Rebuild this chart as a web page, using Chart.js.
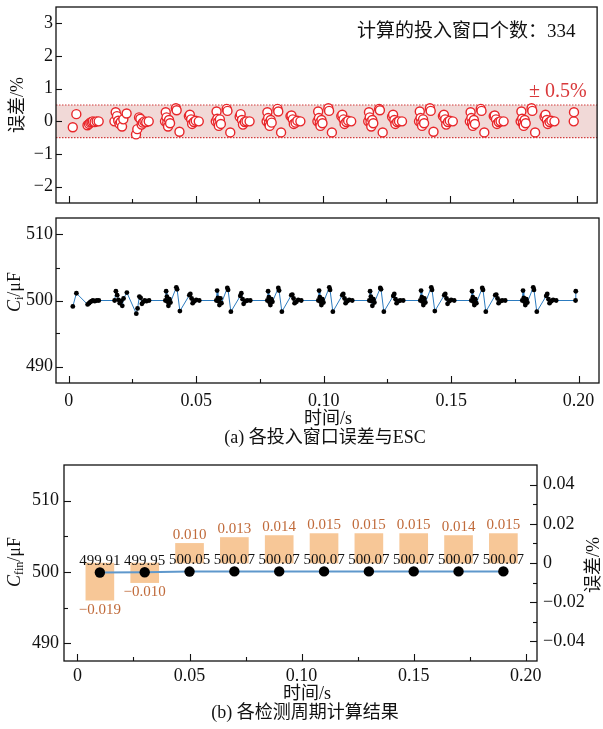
<!DOCTYPE html>
<html>
<head>
<meta charset="utf-8">
<script src="https://cdn.jsdelivr.net/npm/chart.js@4"></script>
<style>
  body { margin: 0; background: #fff; }
  #page { position: relative; width: 603px; height: 729px; overflow: hidden; font-family: "Liberation Serif", "Noto Sans CJK SC", serif; color: #111; }
  canvas { position: absolute; left: 0; }
  .txt { position: absolute; white-space: nowrap; font-size: 18px; line-height: 1; }
  .rot { transform: translate(-50%, -50%) rotate(-90deg); }
  .mid { transform: translate(-50%, -50%); }
  .lft { transform: translate(0, -50%); }
  sub { font-size: 12px; vertical-align: -3px; line-height: 0; }
  i { font-style: italic; }
</style>
</head>
<body>
<div id="page">
  <canvas id="errChart" width="603" height="210" style="top:0"></canvas>
  <canvas id="capChart" width="603" height="200" style="top:210px"></canvas>
  <canvas id="finChart" width="603" height="240" style="top:455px"></canvas>

  <div class="txt rot" style="left:17px; top:105px">误差/%</div>
  <div class="txt lft" style="left:357px; top:30px; font-size:19px">计算的投入窗口个数：334</div>
  <div class="txt lft" style="left:529px; top:90px; font-size:20px; color:#d9383a">± 0.5%</div>

  <div class="txt rot" style="left:14px; top:292px"><i>C</i><sub>i</sub>/μF</div>
  <div class="txt mid" style="left:328px; top:418px">时间/s</div>
  <div class="txt mid" style="left:325px; top:437px">(a) 各投入窗口误差与ESC</div>

  <div class="txt rot" style="left:14px; top:562px"><i>C</i><sub>fin</sub>/μF</div>
  <div class="txt rot" style="left:593px; top:565px">误差/%</div>
  <div class="txt mid" style="left:307px; top:693px">时间/s</div>
  <div class="txt mid" style="left:305px; top:712px">(b) 各检测周期计算结果</div>
</div>

<script>
// ---- data ----
// each input window: time (s), error (%) and estimated capacitance (uF)
const windowTime = [
  0.0016, 0.0030, 0.0074, 0.0080, 0.0085, 0.0090, 0.0095, 0.0102, 0.0110, 0.0118,
  0.0180, 0.0185, 0.0190, 0.0195, 0.0200, 0.0205, 0.0210, 0.0215, 0.0228, 0.0265, 0.0270, 0.0277, 0.0282, 0.0287, 0.0292, 0.0298, 0.0305, 0.0315,
  0.0379, 0.0382, 0.0385, 0.0388, 0.0391, 0.0395, 0.0399, 0.0422, 0.0425, 0.0436, 0.0473, 0.0477, 0.0482, 0.0486, 0.0493, 0.0500, 0.0512,
  0.0579, 0.0582, 0.0585, 0.0588, 0.0591, 0.0595, 0.0599, 0.0622, 0.0625, 0.0636, 0.0673, 0.0677, 0.0682, 0.0686, 0.0693, 0.0700, 0.0712,
  0.0779, 0.0782, 0.0785, 0.0788, 0.0791, 0.0795, 0.0799, 0.0822, 0.0825, 0.0836, 0.0873, 0.0877, 0.0882, 0.0886, 0.0893, 0.0900, 0.0912,
  0.0979, 0.0982, 0.0985, 0.0988, 0.0991, 0.0995, 0.0999, 0.1022, 0.1025, 0.1036, 0.1073, 0.1077, 0.1082, 0.1086, 0.1093, 0.1100, 0.1112,
  0.1179, 0.1182, 0.1185, 0.1188, 0.1191, 0.1195, 0.1199, 0.1222, 0.1225, 0.1236, 0.1273, 0.1277, 0.1282, 0.1286, 0.1293, 0.1300, 0.1312,
  0.1379, 0.1382, 0.1385, 0.1388, 0.1391, 0.1395, 0.1399, 0.1422, 0.1425, 0.1436, 0.1473, 0.1477, 0.1482, 0.1486, 0.1493, 0.1500, 0.1512,
  0.1579, 0.1582, 0.1585, 0.1588, 0.1591, 0.1595, 0.1599, 0.1622, 0.1625, 0.1636, 0.1673, 0.1677, 0.1682, 0.1686, 0.1693, 0.1700, 0.1712,
  0.1779, 0.1782, 0.1785, 0.1788, 0.1791, 0.1795, 0.1799, 0.1822, 0.1825, 0.1836, 0.1873, 0.1877, 0.1882, 0.1886, 0.1893, 0.1900, 0.1912,
  0.1988, 0.1989
];
const windowError = [
  -0.18, 0.22, -0.12, -0.08, -0.04, -0.02, 0.00, -0.02, 0.00, 0.00,
  0.00, 0.28, 0.16, 0.02, -0.08, -0.02, -0.16, 0.06, 0.24, -0.40, -0.24, 0.12, 0.08, -0.10, -0.04, 0.00, -0.02, 0.00,
  0.00, 0.28, 0.12, -0.04, -0.16, 0.04, -0.06, 0.40, 0.34, -0.32, 0.16, 0.20, 0.06, -0.08, -0.02, 0.02, 0.00,
  0.00, 0.30, 0.08, -0.02, -0.14, 0.06, -0.08, 0.38, 0.32, -0.34, 0.14, 0.22, 0.04, -0.10, -0.02, 0.00, 0.00,
  0.00, 0.28, 0.10, -0.06, -0.14, 0.04, -0.04, 0.38, 0.30, -0.34, 0.16, 0.18, 0.06, -0.08, -0.04, 0.02, 0.00,
  0.00, 0.30, 0.10, -0.04, -0.14, 0.04, -0.06, 0.40, 0.32, -0.34, 0.16, 0.20, 0.06, -0.08, -0.02, 0.02, 0.00,
  0.00, 0.28, 0.12, -0.02, -0.16, 0.04, -0.06, 0.38, 0.34, -0.34, 0.14, 0.20, 0.04, -0.08, -0.02, 0.00, 0.00,
  0.00, 0.30, 0.10, -0.04, -0.14, 0.06, -0.06, 0.40, 0.32, -0.32, 0.16, 0.20, 0.06, -0.10, -0.02, 0.02, 0.00,
  0.00, 0.28, 0.10, -0.04, -0.14, 0.04, -0.08, 0.38, 0.32, -0.34, 0.16, 0.18, 0.06, -0.08, -0.02, 0.00, 0.00,
  0.00, 0.30, 0.08, -0.04, -0.14, 0.04, -0.06, 0.40, 0.32, -0.34, 0.14, 0.20, 0.04, -0.08, -0.02, 0.02, 0.00,
  0.00, 0.28
];
const windowCap = [
  499.1, 501.1, 499.4, 499.6, 499.8, 499.9, 500.0, 499.9, 500.0, 500.0,
  500.0, 501.4, 500.8, 500.1, 499.6, 499.9, 499.2, 500.3, 501.2, 498.0, 498.8, 500.6, 500.4, 499.5, 499.8, 500.0, 499.9, 500.0,
  500.0, 501.4, 500.6, 499.8, 499.2, 500.2, 499.7, 502.0, 501.7, 498.4, 500.8, 501.0, 500.3, 499.6, 499.9, 500.1, 500.0,
  500.0, 501.5, 500.4, 499.9, 499.3, 500.3, 499.6, 501.9, 501.6, 498.3, 500.7, 501.1, 500.2, 499.5, 499.9, 500.0, 500.0,
  500.0, 501.4, 500.5, 499.7, 499.3, 500.2, 499.8, 501.9, 501.5, 498.3, 500.8, 500.9, 500.3, 499.6, 499.8, 500.1, 500.0,
  500.0, 501.5, 500.5, 499.8, 499.3, 500.2, 499.7, 502.0, 501.6, 498.3, 500.8, 501.0, 500.3, 499.6, 499.9, 500.1, 500.0,
  500.0, 501.4, 500.6, 499.9, 499.2, 500.2, 499.7, 501.9, 501.7, 498.3, 500.7, 501.0, 500.2, 499.6, 499.9, 500.0, 500.0,
  500.0, 501.5, 500.5, 499.8, 499.3, 500.3, 499.7, 502.0, 501.6, 498.4, 500.8, 501.0, 500.3, 499.5, 499.9, 500.1, 500.0,
  500.0, 501.4, 500.5, 499.8, 499.3, 500.2, 499.6, 501.9, 501.6, 498.3, 500.8, 500.9, 500.3, 499.6, 499.9, 500.0, 500.0,
  500.0, 501.5, 500.4, 499.8, 499.3, 500.2, 499.7, 502.0, 501.6, 498.3, 500.7, 501.0, 500.2, 499.6, 499.9, 500.1, 500.0,
  500.0, 501.4
];
const tolerance = 0.5; // +-0.5 % band

// each detection period (b)
const periodTime = [0.01, 0.03, 0.05, 0.07, 0.09, 0.11, 0.13, 0.15, 0.17, 0.19];
const finalCap = [499.91, 499.95, 500.05, 500.07, 500.07, 500.07, 500.07, 500.07, 500.07, 500.07];
const periodError = [-0.019, -0.010, 0.010, 0.013, 0.014, 0.015, 0.015, 0.015, 0.014, 0.015];

// tick labels
const timeTicks = [0, 0.05, 0.1, 0.15, 0.2];
const timeMinor = [0.025, 0.075, 0.125, 0.175];
const errTicks = [-2, -1, 0, 1, 2, 3];
const capTicks = [490, 500, 510];
const capMinor = [495, 505];
const pctTicks = [-0.04, -0.02, 0, 0.02, 0.04];
const pctMinor = [-0.03, -0.01, 0.01, 0.03];

// ---- helpers ----
const FONT = '"Liberation Serif", "Noto Sans CJK SC", serif';
const minus = (s) => s.replace('-', '\u2212');

function fixSize(size) {
  return (scale) => {
    if (scale.isHorizontal()) scale.height = size; else scale.width = size;
    scale.paddingTop = scale.paddingBottom = scale.paddingLeft = scale.paddingRight = 0;
  };
}

function setTicks(values) {
  return (scale) => { scale.ticks = values.map((v) => ({ value: v })); };
}

function axis(opts) {
  return {
    type: 'linear',
    position: opts.position,
    min: opts.min,
    max: opts.max,
    offset: false,
    grid: { display: false, drawTicks: false },
    border: { display: false },
    afterBuildTicks: setTicks(opts.ticks || []),
    afterFit: fixSize(opts.size),
    ticks: {
      display: opts.labels !== false,
      padding: opts.padding || 4,
      color: '#111',
      font: { family: FONT, size: 18 },
      callback: opts.format,
    },
  };
}

// frame around the plot area + inward tick marks
function frame(specs) {
  return {
    id: 'frame',
    afterDraw(chart) {
      const ctx = chart.ctx, a = chart.chartArea;
      ctx.save();
      ctx.strokeStyle = '#111';
      ctx.lineWidth = 1.3;
      ctx.strokeRect(a.left, a.top, a.right - a.left, a.bottom - a.top);
      ctx.lineWidth = 1.1;
      specs.forEach((s) => {
        const sc = chart.scales[s.id];
        s.values.forEach((v) => {
          const p = Math.round(sc.getPixelForValue(v)) + 0.5;
          ctx.beginPath();
          if (s.side === 'bottom') { ctx.moveTo(p, a.bottom); ctx.lineTo(p, a.bottom - s.len); }
          else if (s.side === 'left') { ctx.moveTo(a.left, p); ctx.lineTo(a.left + s.len, p); }
          else { ctx.moveTo(a.right, p); ctx.lineTo(a.right - s.len, p); }
          ctx.stroke();
        });
      });
      ctx.restore();
    },
  };
}

const fmtTime = (v) => (v === 0 ? '0' : v.toFixed(2));
const fmtInt = (v) => minus(String(v));
const fmtPct = (v) => (v === 0 ? '0' : minus(v.toFixed(2)));

const common = {
  responsive: false,
  animation: false,
  events: [],
  plugins: { legend: { display: false }, tooltip: { enabled: false } },
};

// ---- (a) top: error of each input window ----
const band = {
  id: 'band',
  beforeDatasetsDraw(chart) {
    const ctx = chart.ctx, a = chart.chartArea, y = chart.scales.y;
    const top = y.getPixelForValue(tolerance), bot = y.getPixelForValue(-tolerance);
    ctx.save();
    ctx.fillStyle = 'rgb(241, 217, 215)';
    ctx.fillRect(a.left, top, a.right - a.left, bot - top);
    ctx.strokeStyle = '#d23c3c';
    ctx.lineWidth = 1.2;
    ctx.setLineDash([1.5, 1.5]);
    [top, bot].forEach((p) => {
      ctx.beginPath();
      ctx.moveTo(a.left, p);
      ctx.lineTo(a.right, p);
      ctx.stroke();
    });
    ctx.restore();
  },
};

new Chart(document.getElementById('errChart'), {
  type: 'scatter',
  data: {
    datasets: [{
      data: windowTime.map((t, i) => ({ x: t, y: windowError[i] })),
      pointRadius: 4.5,
      borderWidth: 1.4,
      borderColor: '#e8262a',
      backgroundColor: '#ffffff',
    }],
  },
  options: {
    ...common,
    layout: { padding: { top: 7, left: 0, right: 0, bottom: 0 } },
    scales: {
      x: axis({ position: 'bottom', min: -0.005, max: 0.208, ticks: timeTicks, size: 7, labels: false }),
      y: axis({ position: 'left', min: -2.5, max: 3.5, ticks: errTicks, size: 56, padding: 3, format: fmtInt }),
    },
  },
  plugins: [band, frame([
    { id: 'x', side: 'bottom', values: timeTicks, len: 7 },
    { id: 'x', side: 'bottom', values: timeMinor, len: 4 },
    { id: 'y', side: 'left', values: errTicks, len: 6 },
  ])],
});

// ---- (a) bottom: capacitance of each input window ----
new Chart(document.getElementById('capChart'), {
  type: 'line',
  data: {
    datasets: [{
      data: windowTime.map((t, i) => ({ x: t, y: windowCap[i] })),
      borderColor: '#2c7bbf',
      borderWidth: 1,
      pointRadius: 2.4,
      pointBackgroundColor: '#000',
      pointBorderWidth: 0,
      tension: 0,
    }],
  },
  options: {
    ...common,
    layout: { padding: { top: 8, left: 0, right: 0, bottom: 0 } },
    scales: {
      x: axis({ position: 'bottom', min: -0.005, max: 0.208, ticks: timeTicks, size: 27, padding: 7, format: fmtTime }),
      y: axis({ position: 'left', min: 487.5, max: 512.5, ticks: capTicks, size: 56, padding: 3, format: fmtInt }),
    },
  },
  plugins: [frame([
    { id: 'x', side: 'bottom', values: timeTicks, len: 7 },
    { id: 'x', side: 'bottom', values: timeMinor, len: 4 },
    { id: 'y', side: 'left', values: capTicks, len: 7 },
    { id: 'y', side: 'left', values: capMinor, len: 4 },
  ])],
});

// ---- (b) result of each detection period ----
const valueLabels = {
  id: 'valueLabels',
  afterDatasetsDraw(chart) {
    const ctx = chart.ctx;
    ctx.save();
    ctx.font = '15px ' + FONT;
    ctx.textAlign = 'center';
    chart.getDatasetMeta(1).data.forEach((el, i) => {
      const v = periodError[i];
      ctx.fillStyle = '#c06a3a';
      ctx.textBaseline = v >= 0 ? 'bottom' : 'top';
      ctx.fillText(minus(v.toFixed(3)), el.x, v >= 0 ? el.y - 1 : el.y + 2);
    });
    chart.getDatasetMeta(0).data.forEach((el, i) => {
      ctx.fillStyle = '#111';
      ctx.textBaseline = 'bottom';
      ctx.fillText(finalCap[i].toFixed(2), el.x, el.y - 4);
    });
    ctx.restore();
  },
};

new Chart(document.getElementById('finChart'), {
  type: 'bar',
  data: {
    datasets: [
      {
        type: 'line',
        data: periodTime.map((t, i) => ({ x: t, y: finalCap[i] })),
        yAxisID: 'y',
        order: 0,
        borderColor: '#5f98cc',
        borderWidth: 2,
        pointRadius: 5.2,
        pointBackgroundColor: '#000',
        pointBorderWidth: 0,
      },
      {
        type: 'bar',
        data: periodTime.map((t, i) => ({ x: t, y: periodError[i] })),
        yAxisID: 'y1',
        order: 1,
        backgroundColor: 'rgb(247, 199, 151)',
        barThickness: 28,
        grouped: false,
      },
    ],
  },
  options: {
    ...common,
    layout: { padding: { top: 10, left: 0, right: 0, bottom: 0 } },
    scales: {
      x: axis({ position: 'bottom', min: -0.006, max: 0.205, ticks: timeTicks, size: 34, padding: 4, format: fmtTime }),
      y: axis({ position: 'left', min: 487.5, max: 515, ticks: capTicks, size: 64, padding: 5, format: fmtInt }),
      y1: axis({ position: 'right', min: -0.05, max: 0.05, ticks: pctTicks, size: 66, padding: 6, format: fmtPct }),
    },
  },
  plugins: [valueLabels, frame([
    { id: 'x', side: 'bottom', values: timeTicks, len: 7 },
    { id: 'x', side: 'bottom', values: timeMinor, len: 4 },
    { id: 'y', side: 'left', values: capTicks, len: 7 },
    { id: 'y', side: 'left', values: capMinor, len: 4 },
    { id: 'y1', side: 'right', values: pctTicks, len: 7 },
    { id: 'y1', side: 'right', values: pctMinor, len: 4 },
  ])],
});
</script>
</body>
</html>
